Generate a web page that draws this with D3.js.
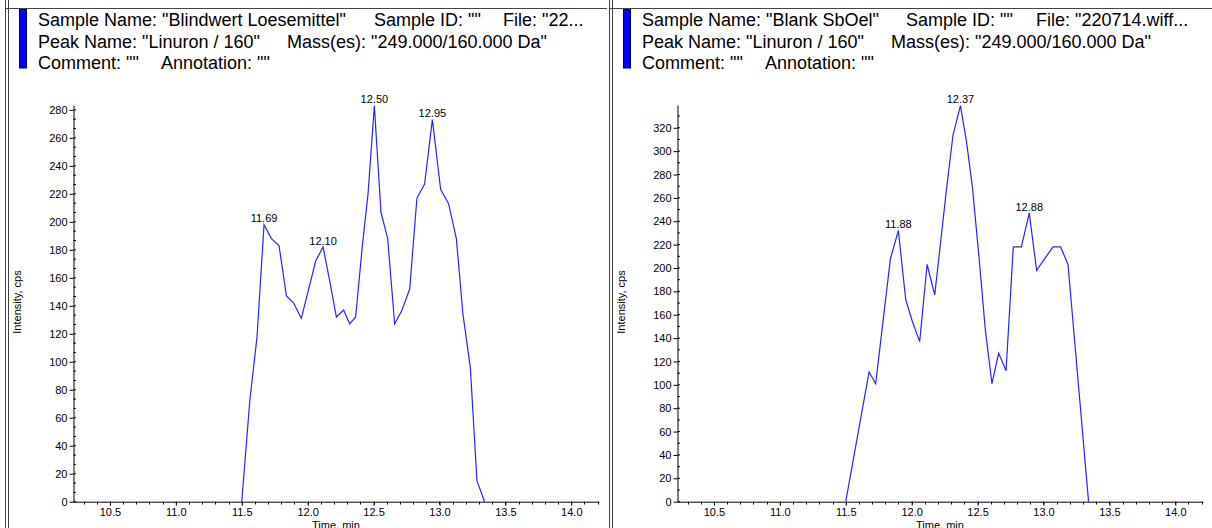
<!DOCTYPE html>
<html>
<head>
<meta charset="utf-8">
<script src="https://cdn.jsdelivr.net/npm/d3@7"></script>
<style>
  html, body { margin: 0; padding: 0; background: #fff; }
  svg { display: block; font-family: 'Liberation Sans', Arial, sans-serif; }
</style>
</head>
<body>
<div id="chart"></div>
<script>
// Blindwert Loesemittel (left panel)
const leftTimes = [11.50, 11.561, 11.616, 11.669, 11.725, 11.783, 11.839, 11.894, 11.952, 12.061,
  12.117, 12.167, 12.218, 12.273, 12.319, 12.364, 12.415, 12.458, 12.506, 12.556,
  12.607, 12.660, 12.716, 12.774, 12.829, 12.887, 12.946, 13.009, 13.069, 13.128,
  13.178, 13.234, 13.284, 13.342]
const leftIntensity = [0, 72, 118, 198, 188, 183, 147, 142, 131, 172,
  182, 158, 132, 137, 127, 132, 183, 220, 283, 207,
  188, 127, 137, 152, 217, 227, 273, 223, 213, 188,
  134, 96, 15, 0]
const leftPeaks = [11.69, 12.10, 12.50, 12.95]
const leftYTicks = [0, 20, 40, 60, 80, 100, 120, 140, 160, 180, 200, 220, 240, 260, 280]

// Blank SbOel (right panel)
const rightTimes = [11.50, 11.677, 11.727, 11.839, 11.899, 11.955, 12.006, 12.061, 12.117, 12.175,
  12.263, 12.314, 12.370, 12.415, 12.461, 12.511, 12.559, 12.609, 12.660, 12.716,
  12.771, 12.832, 12.892, 12.948, 13.009, 13.072, 13.130, 13.186, 13.342]
const rightIntensity = [0, 111, 101, 208, 232, 173, 154, 137, 203, 177,
  266, 314, 339, 309, 269, 209, 147, 101, 127, 112,
  218, 218, 247, 198, 208, 218, 218, 203, 0]
const rightPeaks = [11.88, 12.37, 12.88]
const rightYTicks = [0, 20, 40, 60, 80, 100, 120, 140, 160, 180, 200, 220, 240, 260, 280, 300, 320]

const xTicks = [10.5, 11.0, 11.5, 12.0, 12.5, 13.0, 13.5, 14.0]

const W = 1212
const H = 528

const svg = d3.select('#chart').append('svg')
  .attr('width', W)
  .attr('height', H)

function drawPanel(opts) {
  const g = svg.append('g').attr('transform', `translate(${opts.x0},0)`)

  // frame: double rule on the left, single on top
  g.append('line').attr('x1', 0.5).attr('x2', 0.5).attr('y1', 0).attr('y2', H)
    .attr('stroke', '#444').attr('stroke-width', 1)
  g.append('line').attr('x1', 3.5).attr('x2', 3.5).attr('y1', 0).attr('y2', H)
    .attr('stroke', '#444').attr('stroke-width', 1)
  g.append('line').attr('x1', 0).attr('x2', opts.w).attr('y1', 8.5).attr('y2', 8.5)
    .attr('stroke', '#444').attr('stroke-width', 1.2)

  // blue marker of the trace
  g.append('rect')
    .attr('x', 14.5).attr('y', 9.5)
    .attr('width', 7).attr('height', 58.5)
    .attr('fill', '#0000ff').attr('stroke', '#000050')

  const header = g.append('g')
    .attr('font-size', 18)
    .attr('fill', '#000')
  opts.header.forEach((row, i) => {
    row.forEach(([dx, txt]) => {
      header.append('text')
        .attr('x', dx)
        .attr('y', 26 + 21.5 * i)
        .style('white-space', 'pre')
        .text(txt)
    })
  })

  const x = d3.scaleLinear().domain([10.22, 14.21]).range([68, 594])
  const y = d3.scaleLinear().domain([0, opts.yMax]).range([501.7, 105])

  // minor ticks
  const minorX = d3.range(10.3, 14.21, 0.1)
  g.append('g').selectAll('line').data(minorX).join('line')
    .attr('x1', d => Math.round(x(d)) + 0.5).attr('x2', d => Math.round(x(d)) + 0.5)
    .attr('y1', 501.7).attr('y2', 504.5)
    .attr('stroke', '#000').attr('stroke-width', 1)

  const minorY = d3.range(0, opts.yMax, opts.yMinorStep)
  g.append('g').selectAll('line').data(minorY).join('line')
    .attr('x1', 68.5).attr('x2', 71)
    .attr('y1', d => y(d)).attr('y2', d => y(d))
    .attr('stroke', '#000').attr('stroke-width', 1)

  const xAxis = d3.axisBottom(x).tickValues(xTicks).tickFormat(d3.format('.1f'))
    .tickSizeInner(4).tickSizeOuter(0).tickPadding(3)
  const yAxis = d3.axisLeft(y).tickValues(opts.yTicks)
    .tickSizeInner(4).tickSizeOuter(0).tickPadding(2)

  const gx = g.append('g').attr('transform', 'translate(0,501.7)').call(xAxis)
  const gy = g.append('g').attr('transform', 'translate(68.5,0)').call(yAxis)
  ;[gx, gy].forEach(a => {
    a.attr('font-family', null).attr('font-size', 11)
    a.selectAll('text').attr('fill', '#000')
    a.select('.domain').attr('stroke', '#000')
    a.selectAll('.tick line').attr('stroke', '#000')
  })

  g.append('text')
    .attr('x', (68 + 594) / 2).attr('y', 529)
    .attr('text-anchor', 'middle')
    .attr('font-size', 11)
    .text('Time, min')

  g.append('text')
    .attr('transform', `translate(${opts.yLabelX},302) rotate(-90)`)
    .attr('text-anchor', 'middle')
    .attr('font-size', 11)
    .text('Intensity, cps')

  const pts = opts.times.map((t, i) => ({ t, v: opts.values[i] }))

  const line = d3.line().x(d => x(d.t)).y(d => y(d.v))
  g.append('path')
    .datum(pts)
    .attr('fill', 'none')
    .attr('stroke', '#2525ff')
    .attr('stroke-width', 1.2)
    .attr('stroke-linejoin', 'miter')
    .attr('d', line)

  // apex labels sit on the nearest sampled point
  opts.peaks.forEach(p => {
    const apex = pts.reduce((a, b) => Math.abs(b.t - p) < Math.abs(a.t - p) ? b : a)
    g.append('text')
      .attr('x', x(apex.t))
      .attr('y', y(apex.v) - 2.5)
      .attr('text-anchor', 'middle')
      .attr('font-size', 11)
      .text(d3.format('.2f')(p))
  })
}

drawPanel({
  x0: 5,
  w: 602,
  yMax: 283.5,
  yMinorStep: 20 / 3,
  yTicks: leftYTicks,
  yLabelX: 16,
  times: leftTimes,
  values: leftIntensity,
  peaks: leftPeaks,
  header: [
    [[33, 'Sample Name: "Blindwert Loesemittel"'], [369, 'Sample ID: ""'], [498, 'File: "22...']],
    [[33, 'Peak Name: "Linuron / 160"'], [282, 'Mass(es): "249.000/160.000 Da"']],
    [[33, 'Comment: ""'], [156, 'Annotation: ""']]
  ]
})

drawPanel({
  x0: 609,
  w: 603,
  yMax: 339.5,
  yMinorStep: 10,
  yTicks: rightYTicks,
  yLabelX: 16,
  times: rightTimes,
  values: rightIntensity,
  peaks: rightPeaks,
  header: [
    [[33, 'Sample Name: "Blank SbOel"'], [297, 'Sample ID: ""'], [427, 'File: "220714.wiff...']],
    [[33, 'Peak Name: "Linuron / 160"'], [282, 'Mass(es): "249.000/160.000 Da"']],
    [[33, 'Comment: ""'], [156, 'Annotation: ""']]
  ]
})
</script>
</body>
</html>
